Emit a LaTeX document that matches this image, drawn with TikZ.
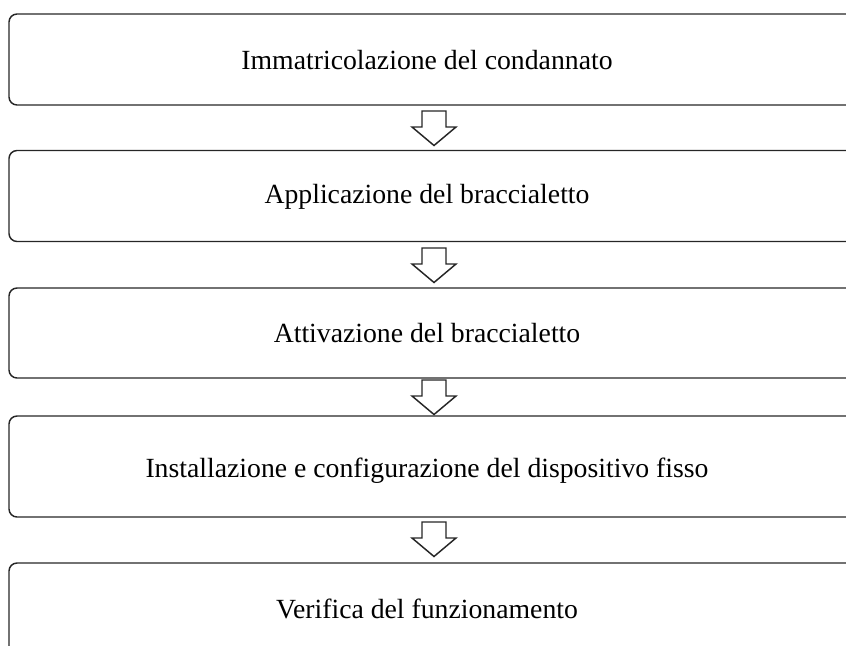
\documentclass[tikz,border=0pt]{standalone}
\usepackage{fontspec}
\setmainfont{Liberation Serif}
\usetikzlibrary{calc}
\begin{document}
\begin{tikzpicture}[x=0.75pt,y=-0.75pt,
  stepbox/.style={draw=black!85,line width=1.1pt,rounded corners=6pt,
    minimum width=638.25pt,inner sep=0pt},
  steptext/.style={inner sep=0pt,font=\fontsize{20.8}{25}\selectfont},
  blockarr/.style={draw=black!85,line width=1.1pt,fill=white,line join=miter}]
\useasboundingbox (0,0) rectangle (846,646);
\clip (0,0) rectangle (846,646);
\node[stepbox,minimum height=68.25pt] (b1) at (434.5,59.5) {};
\node[stepbox,minimum height=68.25pt] (b2) at (434.5,196) {};
\node[stepbox,minimum height=67.5pt] (b3) at (434.5,333) {};
\node[stepbox,minimum height=75.75pt] (b4) at (434.5,466.5) {};
\node[stepbox,minimum height=68.25pt] (b5) at (434.5,608.5) {};
\node[steptext] (t1) at (427,60) {Immatricolazione del condannato};
\node[steptext] (t2) at (427,196.5) {Applicazione del braccialetto};
\node[steptext] (t3) at (427,333.5) {Attivazione del braccialetto};
\node[steptext] (t4) at (427,471) {Installazione e configurazione del dispositivo fisso};
\node[steptext] (t5) at (427,608.5) {Verifica del funzionamento};
\coordinate (a1) at (434,111);
\coordinate (a2) at (434,248);
\coordinate (a3) at (434,380);
\coordinate (a4) at (434,522);
\foreach \a in {a1,a2,a3,a4}{
  \draw[blockarr] ($(\a)+(-12,0)$) -- ++(24,0) -- ++(0,16) -- ++(10,0)
     -- ($(\a)+(0,34.5)$) -- ($(\a)+(-22,16)$) -- ++(10,0) -- cycle;
}
\end{tikzpicture}
\end{document}
